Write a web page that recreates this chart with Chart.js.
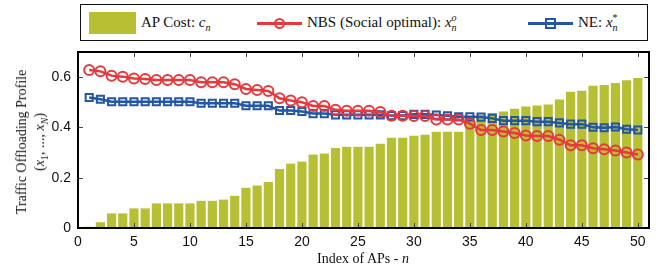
<!DOCTYPE html>
<html lang="en">
<head>
    <meta charset="UTF-8">
    <title>Traffic Offloading Profile</title>
    <script src="https://cdn.jsdelivr.net/npm/chart.js"></script>
    <style>
        body {
            margin: 0;
            background: #ffffff;
        }
        #wrap {
            position: relative;
            width: 663px;
            height: 272px;
        }
        #wrap canvas {
            position: absolute;
            left: 0;
            top: 0;
        }
        .serif {
            font-family: 'Liberation Serif', 'DejaVu Serif', serif;
            color: #111;
        }
        #legend {
            position: absolute;
            left: 80px;
            top: 4px;
            width: 566px;
            height: 35px;
            border: 1.5px solid #111;
            background: #fff;
            font-size: 15px;
        }
        .item {
            position: absolute;
            top: 0;
            height: 35px;
            line-height: 35px;
            white-space: nowrap;
        }
        .swatch {
            position: absolute;
            left: 8px;
            top: 7px;
            width: 47px;
            height: 22px;
            background: #b7bf33;
        }
        .sample {
            position: absolute;
            top: 17px;
            width: 45px;
            height: 3px;
        }
        .sample span {
            position: absolute;
            left: 17px;
            top: -4px;
            width: 7px;
            height: 7px;
            border: 2px solid;
            box-sizing: content-box;
        }
        sub, sup { font-size: 10px; line-height: 0; }
        #ytitle {
            position: absolute;
            left: 31px;
            top: 142px;
            transform: translate(-50%, -50%) rotate(-90deg);
            text-align: center;
            white-space: nowrap;
            font-size: 14px;
            line-height: 18px;
        }
        #xtitle {
            position: absolute;
            left: 363px;
            top: 259px;
            transform: translate(-50%, -50%);
            white-space: nowrap;
            font-size: 14px;
        }
    </style>
</head>
<body>
<div id="wrap">
    <canvas id="chart" width="663" height="272"></canvas>
    <div id="legend" class="serif">
        <div class="swatch"></div>
        <div class="item" style="left:60px">AP Cost: <i>c</i><sub><i>n</i></sub></div>
        <div class="sample" style="left:176px;background:#e8383d">
            <span style="border-color:#e8383d;border-radius:50%;"></span>
        </div>
        <div class="item" style="left:226px">NBS (Social optimal): <i>x</i><sup><i>o</i></sup><sub style="margin-left:-5px"><i>n</i></sub></div>
        <div class="sample" style="left:447px;background:#2456a6">
            <span style="border-color:#2456a6;"></span>
        </div>
        <div class="item" style="left:497px">NE: <i>x</i><sup>*</sup><sub style="margin-left:-5px"><i>n</i></sub></div>
    </div>
    <div id="ytitle" class="serif">Traffic Offloading Profile<br>(<i>x</i><sub>1</sub>, ..., <i>x</i><sub><i>N</i></sub>)</div>
    <div id="xtitle" class="serif">Index of APs - <i>n</i></div>
</div>

<script>
    const apIndex = [1, 2, 3, 4, 5, 6, 7, 8, 9, 10, 11, 12, 13, 14, 15, 16, 17, 18, 19, 20,
        21, 22, 23, 24, 25, 26, 27, 28, 29, 30, 31, 32, 33, 34, 35, 36, 37, 38, 39, 40,
        41, 42, 43, 44, 45, 46, 47, 48, 49, 50];

    const apCost = [0.005, 0.023, 0.058, 0.058, 0.078, 0.078, 0.098, 0.098, 0.098, 0.098,
        0.108, 0.108, 0.113, 0.128, 0.160, 0.169, 0.183, 0.235, 0.256, 0.264,
        0.292, 0.296, 0.318, 0.323, 0.323, 0.323, 0.335, 0.359, 0.359, 0.367,
        0.371, 0.383, 0.383, 0.383, 0.440, 0.450, 0.457, 0.463, 0.474, 0.483,
        0.487, 0.491, 0.511, 0.542, 0.546, 0.566, 0.569, 0.577, 0.588, 0.597];

    const nbs = [0.628, 0.623, 0.606, 0.602, 0.595, 0.593, 0.589, 0.589, 0.589, 0.589,
        0.580, 0.580, 0.580, 0.572, 0.553, 0.549, 0.545, 0.516, 0.507, 0.500,
        0.485, 0.485, 0.470, 0.466, 0.466, 0.466, 0.461, 0.446, 0.446, 0.445,
        0.445, 0.432, 0.432, 0.432, 0.415, 0.390, 0.390, 0.384, 0.378, 0.368,
        0.366, 0.366, 0.351, 0.329, 0.329, 0.317, 0.313, 0.308, 0.300, 0.292];

    const ne = [0.519, 0.512, 0.502, 0.502, 0.502, 0.502, 0.502, 0.502, 0.502, 0.502,
        0.496, 0.496, 0.496, 0.496, 0.486, 0.486, 0.486, 0.467, 0.467, 0.463,
        0.455, 0.455, 0.450, 0.450, 0.450, 0.450, 0.450, 0.447, 0.447, 0.452,
        0.452, 0.449, 0.446, 0.442, 0.442, 0.441, 0.436, 0.427, 0.427, 0.427,
        0.423, 0.423, 0.418, 0.413, 0.413, 0.401, 0.399, 0.402, 0.393, 0.390];

    const xTicks = [0, 5, 10, 15, 20, 25, 30, 35, 40, 45, 50];
    const yTicks = [0, 0.2, 0.4, 0.6];

    const pts = arr => arr.map((v, i) => ({ x: apIndex[i], y: v }));

    // box around the plot + inward tick marks (matlab look)
    const framePlugin = {
        id: 'axisFrame',
        afterDraw(chart) {
            const ctx = chart.ctx;
            const a = chart.chartArea;
            const sx = chart.scales.x, sy = chart.scales.y;
            ctx.save();
            ctx.strokeStyle = '#444';
            ctx.lineWidth = 1;
            xTicks.forEach(t => {
                const px = Math.round(sx.getPixelForValue(t)) + 0.5;
                ctx.beginPath();
                ctx.moveTo(px, a.top); ctx.lineTo(px, a.top + 5);
                ctx.moveTo(px, a.bottom); ctx.lineTo(px, a.bottom - 5);
                ctx.stroke();
            });
            yTicks.forEach(t => {
                const py = Math.round(sy.getPixelForValue(t)) + 0.5;
                ctx.beginPath();
                ctx.moveTo(a.left, py); ctx.lineTo(a.left + 5, py);
                ctx.moveTo(a.right, py); ctx.lineTo(a.right - 5, py);
                ctx.stroke();
            });
            ctx.strokeStyle = '#000';
            ctx.lineWidth = 2;
            ctx.strokeRect(Math.round(a.left), Math.round(a.top),
                Math.round(a.right - a.left), Math.round(a.bottom - a.top));
            ctx.restore();
        }
    };

    const tickFont = { family: "'Liberation Sans', Arial, sans-serif", size: 14 };

    new Chart(document.getElementById('chart'), {
        data: {
            datasets: [
                {
                    type: 'line',
                    label: 'NBS (Social optimal)',
                    data: pts(nbs),
                    borderColor: '#e8383d',
                    borderWidth: 2.5,
                    pointStyle: 'circle',
                    pointRadius: 5,
                    pointBorderWidth: 2,
                    pointBackgroundColor: 'rgba(0,0,0,0)',
                    pointBorderColor: '#e8383d',
                    order: 0
                },
                {
                    type: 'line',
                    label: 'NE',
                    data: pts(ne),
                    borderColor: '#2456a6',
                    borderWidth: 2.5,
                    pointStyle: 'rect',
                    pointRadius: 5,
                    pointBorderWidth: 2,
                    pointBackgroundColor: 'rgba(0,0,0,0)',
                    pointBorderColor: '#2456a6',
                    order: 1
                },
                {
                    type: 'bar',
                    label: 'AP Cost',
                    data: pts(apCost),
                    backgroundColor: '#b7bf33',
                    borderWidth: 0,
                    barPercentage: 0.82,
                    categoryPercentage: 1,
                    order: 2
                }
            ]
        },
        options: {
            responsive: false,
            animation: false,
            layout: { padding: { left: 0, top: 52, right: 14, bottom: 0 } },
            plugins: {
                legend: { display: false },
                tooltip: { enabled: false }
            },
            scales: {
                x: {
                    type: 'linear',
                    offset: false,
                    min: 0,
                    max: 51,
                    grid: { display: false, drawTicks: false, offset: false },
                    border: { display: false },
                    afterFit: s => { s.height = 44; },
                    afterBuildTicks: s => { s.ticks = xTicks.map(v => ({ value: v })); },
                    ticks: { font: tickFont, color: '#111', padding: 6, maxRotation: 0 }
                },
                y: {
                    min: 0,
                    max: 0.7,
                    grid: { display: false, drawTicks: false },
                    border: { display: false },
                    afterFit: s => { s.width = 78; },
                    afterBuildTicks: s => { s.ticks = yTicks.map(v => ({ value: v })); },
                    ticks: {
                        font: tickFont,
                        color: '#111',
                        padding: 7,
                        callback: v => (v === 0 ? '0' : v.toFixed(1))
                    }
                }
            }
        },
        plugins: [framePlugin]
    });
</script>
</body>
</html>
